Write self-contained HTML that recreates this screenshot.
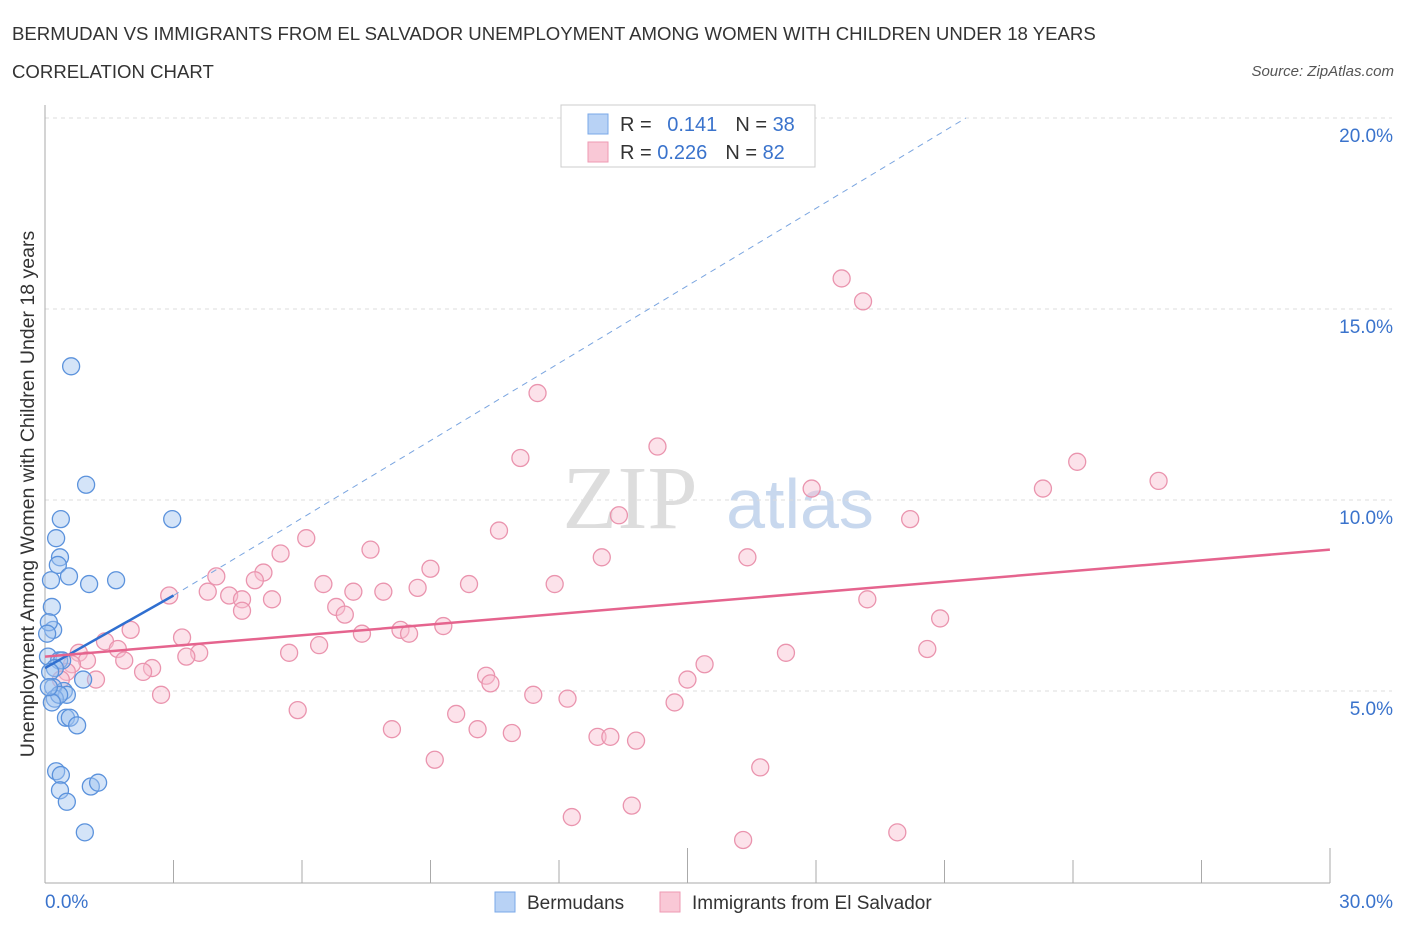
<!DOCTYPE html>
<html><head><meta charset="utf-8"><style>
body{margin:0;background:#fff;font-family:"Liberation Sans",sans-serif;}
svg{display:block}
</style></head><body>
<svg id="c" width="1406" height="930">
<text x="12" y="40" font-size="18.6" fill="#333">BERMUDAN VS IMMIGRANTS FROM EL SALVADOR UNEMPLOYMENT AMONG WOMEN WITH CHILDREN UNDER 18 YEARS</text>
<text x="12" y="78" font-size="18.6" fill="#333">CORRELATION CHART</text>
<text x="1394" y="76" font-size="15" font-style="italic" fill="#555" text-anchor="end">Source: ZipAtlas.com</text>
<text x="630" y="528" font-size="90" font-family="Liberation Serif" fill="#ddd" text-anchor="middle">ZIP</text>
<text x="800" y="528" font-size="70" fill="#c8d8ee" text-anchor="middle">atlas</text>
<g id="grid"></g><g id="marks"></g>
<text x="34" y="494" font-size="19.5" fill="#333" text-anchor="middle" transform="rotate(-90 34 494)">Unemployment Among Women with Children Under 18 years</text>
<g>
<rect x="561" y="105" width="254" height="62" fill="#fff" stroke="#ccc"/>
<rect x="588" y="114" width="20" height="20" fill="#b8d2f5" stroke="#7aa8e8"/>
<rect x="588" y="142" width="20" height="20" fill="#f9c8d6" stroke="#ee9ab3"/>
<text x="620" y="131" font-size="20" fill="#333">R = <tspan fill="#3a73cc" dx="10">0.141</tspan><tspan dx="18">N = </tspan><tspan fill="#3a73cc">38</tspan></text>
<text x="620" y="159" font-size="20" fill="#333">R = <tspan fill="#3a73cc">0.226</tspan><tspan dx="18">N = </tspan><tspan fill="#3a73cc">82</tspan></text>
</g>
<g>
<rect x="495" y="892" width="20" height="20" fill="#b8d2f5" stroke="#7aa8e8"/>
<text x="527" y="909" font-size="19" fill="#333">Bermudans</text>
<rect x="660" y="892" width="20" height="20" fill="#f9c8d6" stroke="#ee9ab3"/>
<text x="692" y="909" font-size="19" fill="#333">Immigrants from El Salvador</text>
</g>
</svg>
<script>
const xTicks=[0,30];
const yTicks=[5,10,15,20];
const blueX=[0.61,0.96,0.37,2.97,0.26,0.35,0.30,0.56,0.14,1.03,1.66,0.16,0.19,0.09,0.05,0.07,0.33,0.40,0.23,0.12,0.44,0.19,0.51,0.23,0.33,0.16,0.89,0.49,0.58,0.75,0.26,0.37,0.35,0.51,1.07,1.24,0.93,0.09];
const blueY=[13.5,10.4,9.5,9.5,9.0,8.5,8.3,8.0,7.9,7.8,7.9,7.2,6.6,6.8,6.5,5.9,5.8,5.8,5.6,5.5,5.0,5.1,4.9,4.8,4.9,4.7,5.3,4.3,4.3,4.1,2.9,2.8,2.4,2.1,2.5,2.6,1.3,5.1];
const pinkX=[18.6,19.1,11.5,14.3,11.1,24.1,26.0,23.3,17.9,13.4,20.2,10.6,6.1,7.6,5.5,13.0,16.4,9.0,5.1,4.0,4.9,6.5,9.9,11.9,2.9,3.8,4.3,4.6,5.3,7.2,7.9,8.7,6.8,7.0,4.6,19.2,20.9,2.0,3.2,9.3,8.3,8.5,7.4,1.4,1.7,3.6,3.3,5.7,6.4,0.79,0.98,1.85,2.5,2.29,20.6,17.3,15.4,0.63,0.51,1.19,0.37,10.3,10.4,15.0,2.71,11.4,12.2,14.7,5.9,9.6,8.1,10.1,10.9,12.9,13.2,13.8,9.1,16.7,13.7,12.3,19.9,16.3];
const pinkY=[15.8,15.2,12.8,11.4,11.1,11.0,10.5,10.3,10.3,9.6,9.5,9.2,9.0,8.7,8.6,8.5,8.5,8.2,8.1,8.0,7.9,7.8,7.8,7.8,7.5,7.6,7.5,7.4,7.4,7.6,7.6,7.7,7.2,7.0,7.1,7.4,6.9,6.6,6.4,6.7,6.6,6.5,6.5,6.3,6.1,6.0,5.9,6.0,6.2,6.0,5.8,5.8,5.6,5.5,6.1,6.0,5.7,5.7,5.5,5.3,5.3,5.4,5.2,5.3,4.9,4.9,4.8,4.7,4.5,4.4,4.0,4.0,3.9,3.8,3.8,3.7,3.2,3.0,2.0,1.7,1.3,1.1];
const blueLine=[0.0,5.6,3.0,7.5];
const blueDash=[3.0,7.5,21.5,20.0];
const pinkLine=[0.0,5.9,30.0,8.7];
const X=v=>45+v*42.83, Y=v=>882-v*38.2;
const NS='http://www.w3.org/2000/svg';
const grid=document.getElementById('grid'), marks=document.getElementById('marks');
function mk(tag,attrs,parent){const e=document.createElementNS(NS,tag);for(const k in attrs)e.setAttribute(k,attrs[k]);parent.appendChild(e);return e;}
yTicks.forEach(t=>{
 const l=mk('line',{x1:45,x2:1392,y1:Y(t),y2:Y(t),stroke:'#ddd','stroke-dasharray':'4,4'},grid);
 
 
 const tx=mk('text',{x:1393,y:Y(t)+24,'font-size':19,fill:'#3a73cc','text-anchor':'end'},grid);tx.textContent=t.toFixed(1)+'%';
 
 
});
mk('line',{x1:45,x2:45,y1:105,y2:883,stroke:'#aaa'},grid);
mk('line',{x1:45,x2:1330,y1:883,y2:883,stroke:'#aaa'},grid);
for(let i=0;i<=10;i++){const x=45+i*128.5;const l=mk('line',{x1:x,x2:x,y1:883,y2:i%5==0?848:860,stroke:'#aaa'},grid);
 
 }
xTicks.forEach((t,i)=>{const tx=mk('text',{x:i?1393:45,y:908,'font-size':19,fill:'#3a73cc','text-anchor':i?'end':'start'},grid);tx.textContent=t.toFixed(1)+'%';
 
 });
function pts(xs,ys,fill,stroke,name){xs.forEach((v,i)=>{const c=mk('circle',{cx:X(v),cy:Y(ys[i]),r:8.5,fill:fill,stroke:stroke,'stroke-width':1.3},marks);
 
 });}
pts(pinkX,pinkY,'rgba(249,190,208,0.45)','#ea94ae','point-el-salvador');
pts(blueX,blueY,'rgba(160,196,240,0.45)','#5b92dc','point-bermudan');
let d=mk('line',{x1:X(blueDash[0]),y1:Y(blueDash[1]),x2:X(blueDash[2]),y2:Y(blueDash[3]),stroke:'#7aa5e0','stroke-width':1,'stroke-dasharray':'6,5'},marks);


let b=mk('line',{x1:X(blueLine[0]),y1:Y(blueLine[1]),x2:X(blueLine[2]),y2:Y(blueLine[3]),stroke:'#2f6fd0','stroke-width':2.5},marks);


let p=mk('line',{x1:X(pinkLine[0]),y1:Y(pinkLine[1]),x2:X(pinkLine[2]),y2:Y(pinkLine[3]),stroke:'#e5648e','stroke-width':2.5},marks);


</script>
</body></html>
